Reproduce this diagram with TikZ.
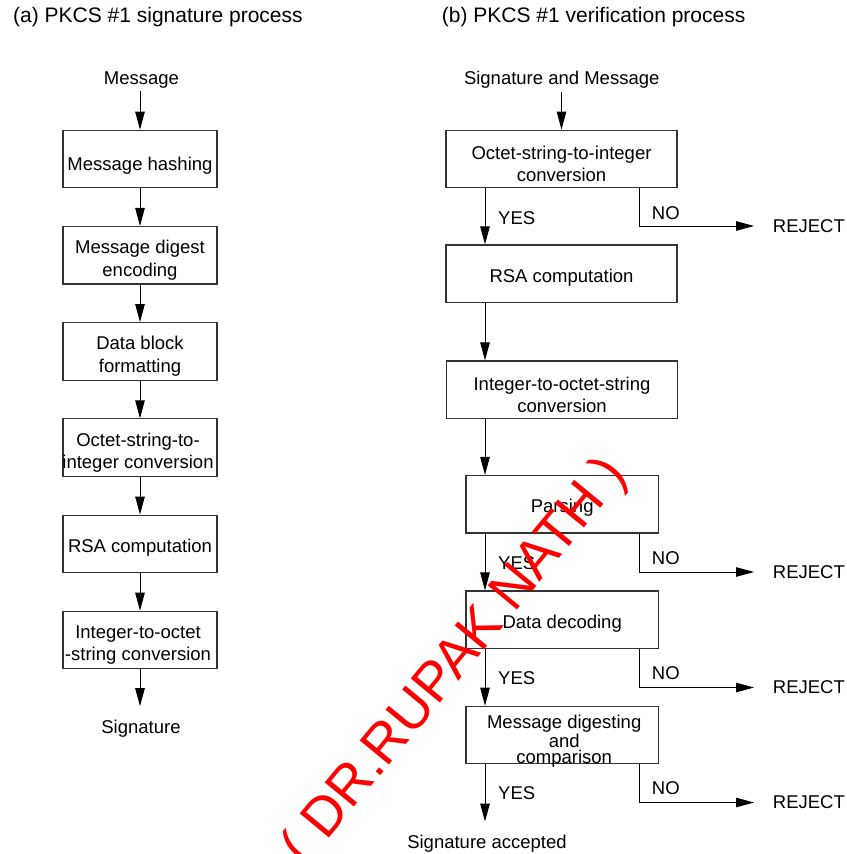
\documentclass[tikz,border=0pt]{standalone}
\usepackage{fontspec}
\setmainfont{Liberation Sans}
\usetikzlibrary{arrows.meta,calc}
\begin{document}
\begin{tikzpicture}[x=1pt,y=-1pt,
  every node/.style={font=\fontsize{18.5}{22.6}\selectfont, inner sep=0pt},
  box/.style={draw=black!80, line width=1.1pt, minimum height=57.5pt, inner sep=0pt},
  lbox/.style={box, minimum width=154pt},
  rbox/.style={box, minimum width=231pt},
  sbox/.style={box, minimum width=192.5pt},
  txt/.style={align=center},
  arr/.style={draw=black, line width=1pt, -{Triangle[length=18pt,width=9.5pt]}},
  titletext/.style={font=\fontsize{21}{25}\selectfont, anchor=base west},
  lab/.style={anchor=west},
  wmark/.style={text=red, font=\fontsize{55}{62}\selectfont, rotate=50.5}
]
\useasboundingbox (0,0) rectangle (846,854);

% titles
\node[titletext] (ta) at (13,22.7) {(a) PKCS \#1 signature process};
\node[titletext] (tb) at (441.7,22.7) {(b) PKCS \#1 verification process};

% ---------- left column ----------
\node (msg) at (141.5,80) {Message};
\node[lbox] (L1) at (140,159) {};
\node[txt] (L1t) at ([yshift=-6.5pt]L1.center) {Message hashing};
\node[lbox] (L2) at (140,255.2) {};
\node[txt] (L2t) at ([yshift=-5pt]L2.center) {Message digest\\encoding};
\node[lbox] (L3) at (140,351.4) {};
\node[txt] (L3t) at ([yshift=-5pt]L3.center) {Data block\\formatting};
\node[lbox] (L4) at (140,447.6) {};
\node[txt] (L4t) at ([yshift=-5pt,xshift=-2pt]L4.center) {Octet-string-to-\\integer conversion};
\node[lbox] (L5) at (140,543.8) {};
\node[txt] (L5t) at ([yshift=-4pt]L5.center) {RSA computation};
\node[lbox] (L6) at (140,640) {};
\node[txt] (L6t) at ([yshift=-5pt,xshift=-2pt]L6.center) {Integer-to-octet\\-string conversion};
\node (sig) at (141,729) {Signature};

\draw[arr,shorten <=3pt] (msg.south -| L1.north) -- (L1.north);
\draw[arr] (L1) -- (L2);
\draw[arr] (L2) -- (L3);
\draw[arr] (L3) -- (L4);
\draw[arr] (L4) -- (L5);
\draw[arr] (L5) -- (L6);
\draw[arr,shorten >=14pt] (L6.south) -- (L6.south |- sig.north);

% ---------- right column ----------
\coordinate (xyes) at (485,0);
\coordinate (xno) at (639,0);

\node (sm) at (561.7,80) {Signature and Message};
\node[rbox] (R1) at (561.5,158.9) {};
\node[txt] (R1t) at ([yshift=-5pt]R1.center) {Octet-string-to-integer\\conversion};
\node[rbox] (R2) at (561.5,273.7) {};
\node[txt] (R2t) at ([yshift=-4pt]R2.center) {RSA computation};
\node[rbox] (R3) at (562,389.7) {};
\node[txt] (R3t) at ([yshift=-5pt]R3.center) {Integer-to-octet-string\\conversion};
\node[sbox] (R4) at (562.2,504.2) {};
\node[txt] (R4t) at ([yshift=-4pt]R4.center) {Parsing};
\node[sbox] (R5) at (562.2,619.7) {};
\node[txt] (R5t) at ([yshift=-4pt]R5.center) {Data decoding};
\node[sbox] (R6) at (562.2,735) {};
\node[txt] (R6t) at ([yshift=-6pt,xshift=2pt]R6.center) {Message digesting\\[-3pt]and\\[-7pt]comparison};
\node (acc) at (487,844) {Signature accepted};

\draw[arr,shorten <=3pt] (sm.south -| R1.north) -- (R1.north);
\draw[arr] (R1.south -| xyes) -- (R2.north -| xyes);
\draw[arr] (R2.south -| xyes) -- (R3.north -| xyes);
\draw[arr] (R3.south -| xyes) -- (R4.north -| xyes);
\draw[arr] (R4.south -| xyes) -- (R5.north -| xyes);
\draw[arr] (R5.south -| xyes) -- (R6.north -| xyes);
\draw[arr,shorten >=13.6pt] (R6.south -| xyes) -- (acc.north -| xyes);

% YES labels
\node[lab] (y1) at (498,218) {YES};
\node[lab] (y2) at (498,563.3) {YES};
\node[lab] (y3) at (498,678) {YES};
\node[lab] (y4) at (498,792.7) {YES};

% NO labels
\node[lab] (n1) at (651.7,212.7) {NO};
\node[lab] (n2) at (651.7,558.3) {NO};
\node[lab] (n3) at (651.7,673.3) {NO};
\node[lab] (n4) at (651.7,788.3) {NO};

% REJECT
\node[lab] (rj1) at (772.7,226) {REJECT};
\node[lab] (rj2) at (772.7,572) {REJECT};
\node[lab] (rj3) at (772.7,687.5) {REJECT};
\node[lab] (rj4) at (772.7,802.5) {REJECT};

\draw[arr,shorten >=18.7pt] (R1.south -| xno) |- (rj1.west);
\draw[arr,shorten >=18.7pt] (R4.south -| xno) |- (rj2.west);
\draw[arr,shorten >=18.7pt] (R5.south -| xno) |- (rj3.west);
\draw[arr,shorten >=18.7pt] (R6.south -| xno) |- (rj4.west);

% watermark
\node[wmark] (wm) at (456,662) {( DR.RUPAK NATH )};
\end{tikzpicture}
\end{document}
